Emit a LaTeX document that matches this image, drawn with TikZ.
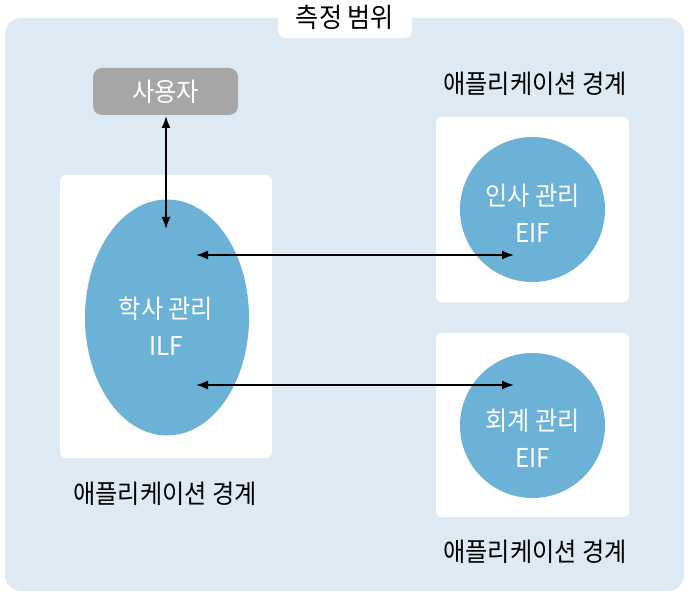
\documentclass[tikz,border=0pt]{standalone}
\usepackage{fontspec}
\setmainfont{Noto Sans CJK KR}[FakeStretch=0.93]
\usetikzlibrary{arrows.meta}
\definecolor{bgblue}{HTML}{DDEAF3}
\definecolor{fnblue}{HTML}{6CB1D6}
\definecolor{usergray}{HTML}{A6A6A6}
\begin{document}
\begin{tikzpicture}[x=1pt,y=-1pt,
  lbl/.style={font=\fontsize{26}{30}\selectfont, text=black, inner sep=0pt},
  ftext/.style={font=\fontsize{26}{37}\selectfont, text=white, align=center, inner sep=0pt},
  appbox/.style={fill=white, rounded corners=6pt},
  conn/.style={line width=1.6pt, {Latex[length=12pt,width=9pt]}-{Latex[length=12pt,width=9pt]}}
]
\useasboundingbox (0,0) rectangle (689,599);
\fill[white] (0,0) rectangle (689,599);
% scope box
\fill[bgblue, rounded corners=16pt] (5,18) rectangle (684,591);
\fill[white, rounded corners=8pt] (278,-20) rectangle (412,38);
\node[lbl, font=\fontsize{27}{30}\selectfont] (title) at (345,17) {측정 범위};
% user
\node[fill=usergray, rounded corners=9pt, minimum width=145pt, minimum height=47pt, text=white, font=\fontsize{26}{30}\selectfont] (user) at (165.5,91.5) {사용자};
% application boxes
\fill[appbox] (60,175) rectangle (272,458);
\fill[appbox] (436,117) rectangle (629,302);
\fill[appbox] (436,333) rectangle (629,517);
% functions
\fill[fnblue] (167,317.5) ellipse [x radius=82, y radius=118];
\node[ftext] (ilf) at (166,326) {학사 관리\\ILF};
\fill[fnblue] (532.5,209.5) circle [radius=72.5];
\node[ftext] (eif1) at (532.5,213) {인사 관리\\EIF};
\fill[fnblue] (532.5,425.5) circle [radius=72.5];
\node[ftext] (eif2) at (532.5,438) {회계 관리\\EIF};
% labels
\node[lbl] (l1) at (165,494) {애플리케이션 경계};
\node[lbl] (l2) at (535,84) {애플리케이션 경계};
\node[lbl] (l3) at (535,552) {애플리케이션 경계};
% connectors
\coordinate (uA) at (166,116);
\coordinate (uB) at (166,229);
\coordinate (a1) at (196,255);
\coordinate (b1) at (514,255);
\coordinate (a2) at (196,385);
\coordinate (b2) at (514,385);
\draw[conn] (uA) -- (uB);
\draw[conn] (a1) -- (b1);
\draw[conn] (a2) -- (b2);
\end{tikzpicture}
\end{document}
